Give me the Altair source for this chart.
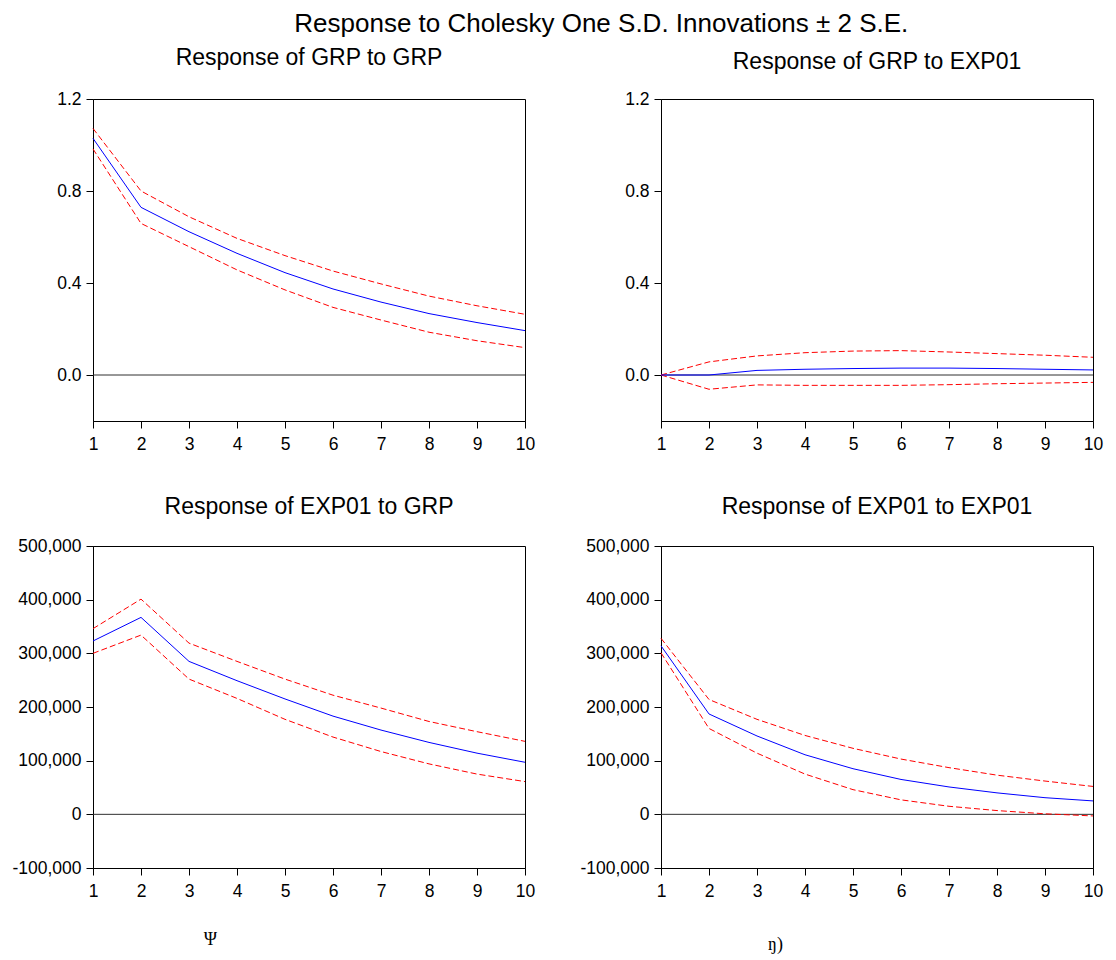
import altair as alt
import pandas as pd

periods = list(range(1, 11))

# Response of GRP to GRP
grp_grp_resp = [1.029, 0.729, 0.623, 0.529, 0.445, 0.374, 0.317, 0.267, 0.228, 0.193]
grp_grp_upper = [1.072, 0.800, 0.688, 0.594, 0.519, 0.452, 0.396, 0.343, 0.301, 0.264]
grp_grp_lower = [0.983, 0.659, 0.558, 0.457, 0.370, 0.294, 0.239, 0.186, 0.149, 0.119]

# Response of GRP to EXP01
grp_exp_resp = [0.0, 0.0, 0.020, 0.025, 0.028, 0.030, 0.030, 0.028, 0.025, 0.022]
grp_exp_upper = [0.0, 0.057, 0.083, 0.097, 0.104, 0.106, 0.100, 0.093, 0.086, 0.077]
grp_exp_lower = [0.0, -0.062, -0.043, -0.045, -0.045, -0.045, -0.042, -0.038, -0.035, -0.032]

# Response of EXP01 to GRP
exp_grp_resp = [323000, 367000, 285000, 249000, 215000, 183000, 157000, 134000, 114000, 97000]
exp_grp_upper = [346000, 401000, 319000, 285000, 252000, 222000, 198000, 173000, 154000, 136000]
exp_grp_lower = [300000, 334000, 252000, 216000, 177000, 144000, 117000, 94000, 75000, 61000]

# Response of EXP01 to EXP01
exp_exp_resp = [314000, 187000, 146000, 111000, 85000, 65000, 51000, 40000, 31000, 25000]
exp_exp_upper = [328000, 214000, 177000, 147000, 123000, 103000, 87000, 73000, 62000, 52000]
exp_exp_lower = [301000, 160000, 114000, 75000, 46000, 27000, 15000, 7000, 1000, -3000]

top_domain = [-0.2, 1.2]
top_ticks = [0.0, 0.4, 0.8, 1.2]
bot_domain = [-100000, 500000]
bot_ticks = [-100000, 0, 100000, 200000, 300000, 400000, 500000]

FONT = "Liberation Sans"


def make_df(resp, upper, lower):
    rows = []
    for name, vals in (("resp", resp), ("upper", upper), ("lower", lower)):
        for p, v in zip(periods, vals):
            rows.append({"period": p, "value": v, "band": name})
    return pd.DataFrame(rows)


def panel(title, resp, upper, lower, ydomain, yticks, label_expr,
          title_offset=14, xtitle=None, xtitle_x=0, xtitle_y=0):
    df = make_df(resp, upper, lower)
    xaxis_kwargs = dict(values=periods, format="d", labelFlush=False,
                        labelPadding=7)
    if xtitle:
        xaxis_kwargs.update(title=xtitle, titleX=xtitle_x, titleY=xtitle_y,
                            titleFont="Liberation Serif", titleFontSize=18,
                            titleFontWeight="normal", titleColor="black",
                            titleBaseline="middle", titleAlign="center")
    else:
        xaxis_kwargs.update(title=None)
    x = alt.X("period:Q",
              scale=alt.Scale(domain=[1, 10], nice=False, zero=False),
              axis=alt.Axis(**xaxis_kwargs))
    y = alt.Y("value:Q",
              scale=alt.Scale(domain=ydomain, nice=False, zero=False),
              axis=alt.Axis(values=yticks, labelExpr=label_expr, title=None,
                            labelFlush=False, labelPadding=5))
    base = alt.Chart(df)
    zero = alt.Chart(pd.DataFrame({"value": [0]})).mark_rule(
        color="#303030", strokeWidth=1).encode(y=y)
    bands = base.transform_filter("datum.band != 'resp'").mark_line(
        color="#FF0000", strokeWidth=1, strokeDash=[6, 3]).encode(
        x=x, y=y, detail="band:N")
    line = base.transform_filter("datum.band == 'resp'").mark_line(
        color="#0000FF", strokeWidth=1).encode(x=x, y=y)
    return alt.layer(zero, bands, line).properties(
        width=432, height=322,
        title=alt.TitleParams(title, fontSize=23, font=FONT,
                              fontWeight="normal", color="black",
                              offset=title_offset))


top_expr = "format(datum.value, '.1f')"
bot_expr = "datum.value < 0 ? '-' + format(-datum.value, ',') : format(datum.value, ',')"

tl = panel("Response of GRP to GRP", grp_grp_resp, grp_grp_upper, grp_grp_lower,
           top_domain, top_ticks, top_expr, title_offset=20)
tr = panel("Response of GRP to EXP01", grp_exp_resp, grp_exp_upper, grp_exp_lower,
           top_domain, top_ticks, top_expr, title_offset=16)
bl = panel("Response of EXP01 to GRP", exp_grp_resp, exp_grp_upper, exp_grp_lower,
           bot_domain, bot_ticks, bot_expr, title_offset=18,
           xtitle="Ψ", xtitle_x=117, xtitle_y=71)
br = panel("Response of EXP01 to EXP01", exp_exp_resp, exp_exp_upper, exp_exp_lower,
           bot_domain, bot_ticks, bot_expr, title_offset=18,
           xtitle="ŋ)", xtitle_x=114, xtitle_y=76)

chart = alt.concat(tl, tr, bl, br, columns=2,
                   spacing={"row": 125, "column": 136},
                   bounds="flush").properties(
    title=alt.TitleParams("Response to Cholesky One S.D. Innovations ± 2 S.E.",
                          fontSize=26, font=FONT, fontWeight="normal",
                          color="black", anchor="middle", offset=10, dx=44),
    padding={"left": 3, "top": 2, "right": 0, "bottom": 0},
).configure_view(
    stroke="black", strokeWidth=1
).configure_axis(
    grid=False, domainColor="black", domainWidth=1, tickColor="black",
    tickSize=7, tickWidth=1, labelColor="black", labelFont=FONT,
    labelFontSize=17.5
)

chart.save("out.html", embed_options={"renderer": "svg", "actions": False})
